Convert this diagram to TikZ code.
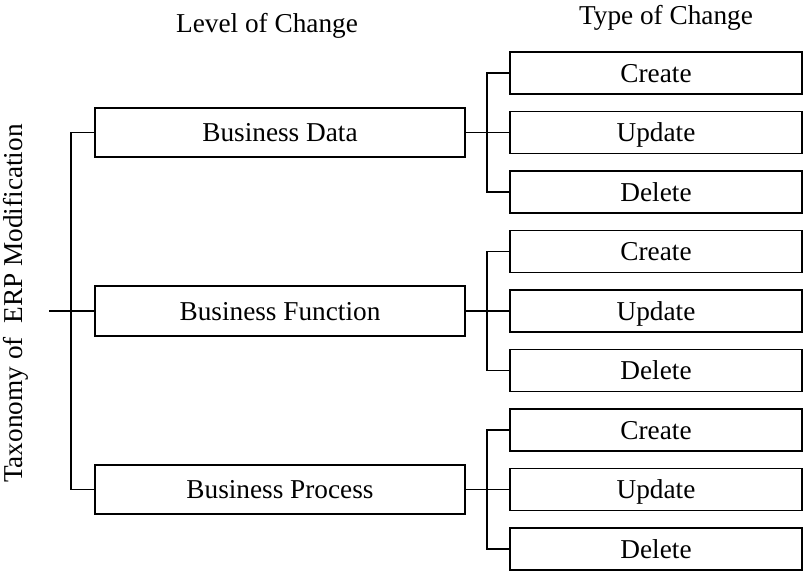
\documentclass[tikz,border=0pt]{standalone}
\usepackage{fontspec}
\setmainfont{Liberation Serif}
\usetikzlibrary{positioning}

\begin{document}
\begin{tikzpicture}[
    line width=1.2pt,
    font=\fontsize{19.4}{23}\selectfont
]
\tikzset{
    levelnode/.style = {rectangle, draw=black, align=center, minimum width=9.25cm, minimum height=1.24cm, text height=13pt, text depth=0pt},
    typenode/.style = {rectangle, draw=black, align=center, minimum width=7.3cm, minimum height=1.05cm, text height=13pt, text depth=0pt},
    edgen/.style = {-}
}
\useasboundingbox (0,0) rectangle (20.1,-14.275);
% titles
\node[rotate=90, anchor=base] at (0.575,-7.59) (taxo) {Taxonomy of~ ERP Modification};
\node[anchor=base] at (6.675,-0.8) (lvlhead) {Level of Change};
\node[anchor=base] at (16.65,-0.6) (typehead) {Type of Change};
% level of change
\coordinate (root) at (1.225,-7.775);
\node[levelnode] at (7.0,-3.3125) (data) {Business Data};
\node[levelnode] at (7.0,-7.775) (func) {Business Function};
\node[levelnode] at (7.0,-12.2375) (proc) {Business Process};
% type of change
\node[typenode] at (16.4,-1.825) (datac) {Create};
\node[typenode] at (16.4,-3.3125) (datau) {Update};
\node[typenode] at (16.4,-4.8) (datad) {Delete};
\node[typenode] at (16.4,-6.2875) (funcc) {Create};
\node[typenode] at (16.4,-7.775) (funcu) {Update};
\node[typenode] at (16.4,-9.2625) (funcd) {Delete};
\node[typenode] at (16.4,-10.75) (procc) {Create};
\node[typenode] at (16.4,-12.2375) (procu) {Update};
\node[typenode] at (16.4,-13.725) (procd) {Delete};
% connectors
\draw[edgen] (root) -- (func.west);
\draw[edgen] (data.west) -- ++(-0.575,0) |- (proc.west);
\draw[edgen] (data.east) -- (datau.west);
\draw[edgen] (datac.west) -- ++(-0.55,0) |- (datad.west);
\draw[edgen] (func.east) -- (funcu.west);
\draw[edgen] (funcc.west) -- ++(-0.55,0) |- (funcd.west);
\draw[edgen] (proc.east) -- (procu.west);
\draw[edgen] (procc.west) -- ++(-0.55,0) |- (procd.west);
\end{tikzpicture}
\end{document}
